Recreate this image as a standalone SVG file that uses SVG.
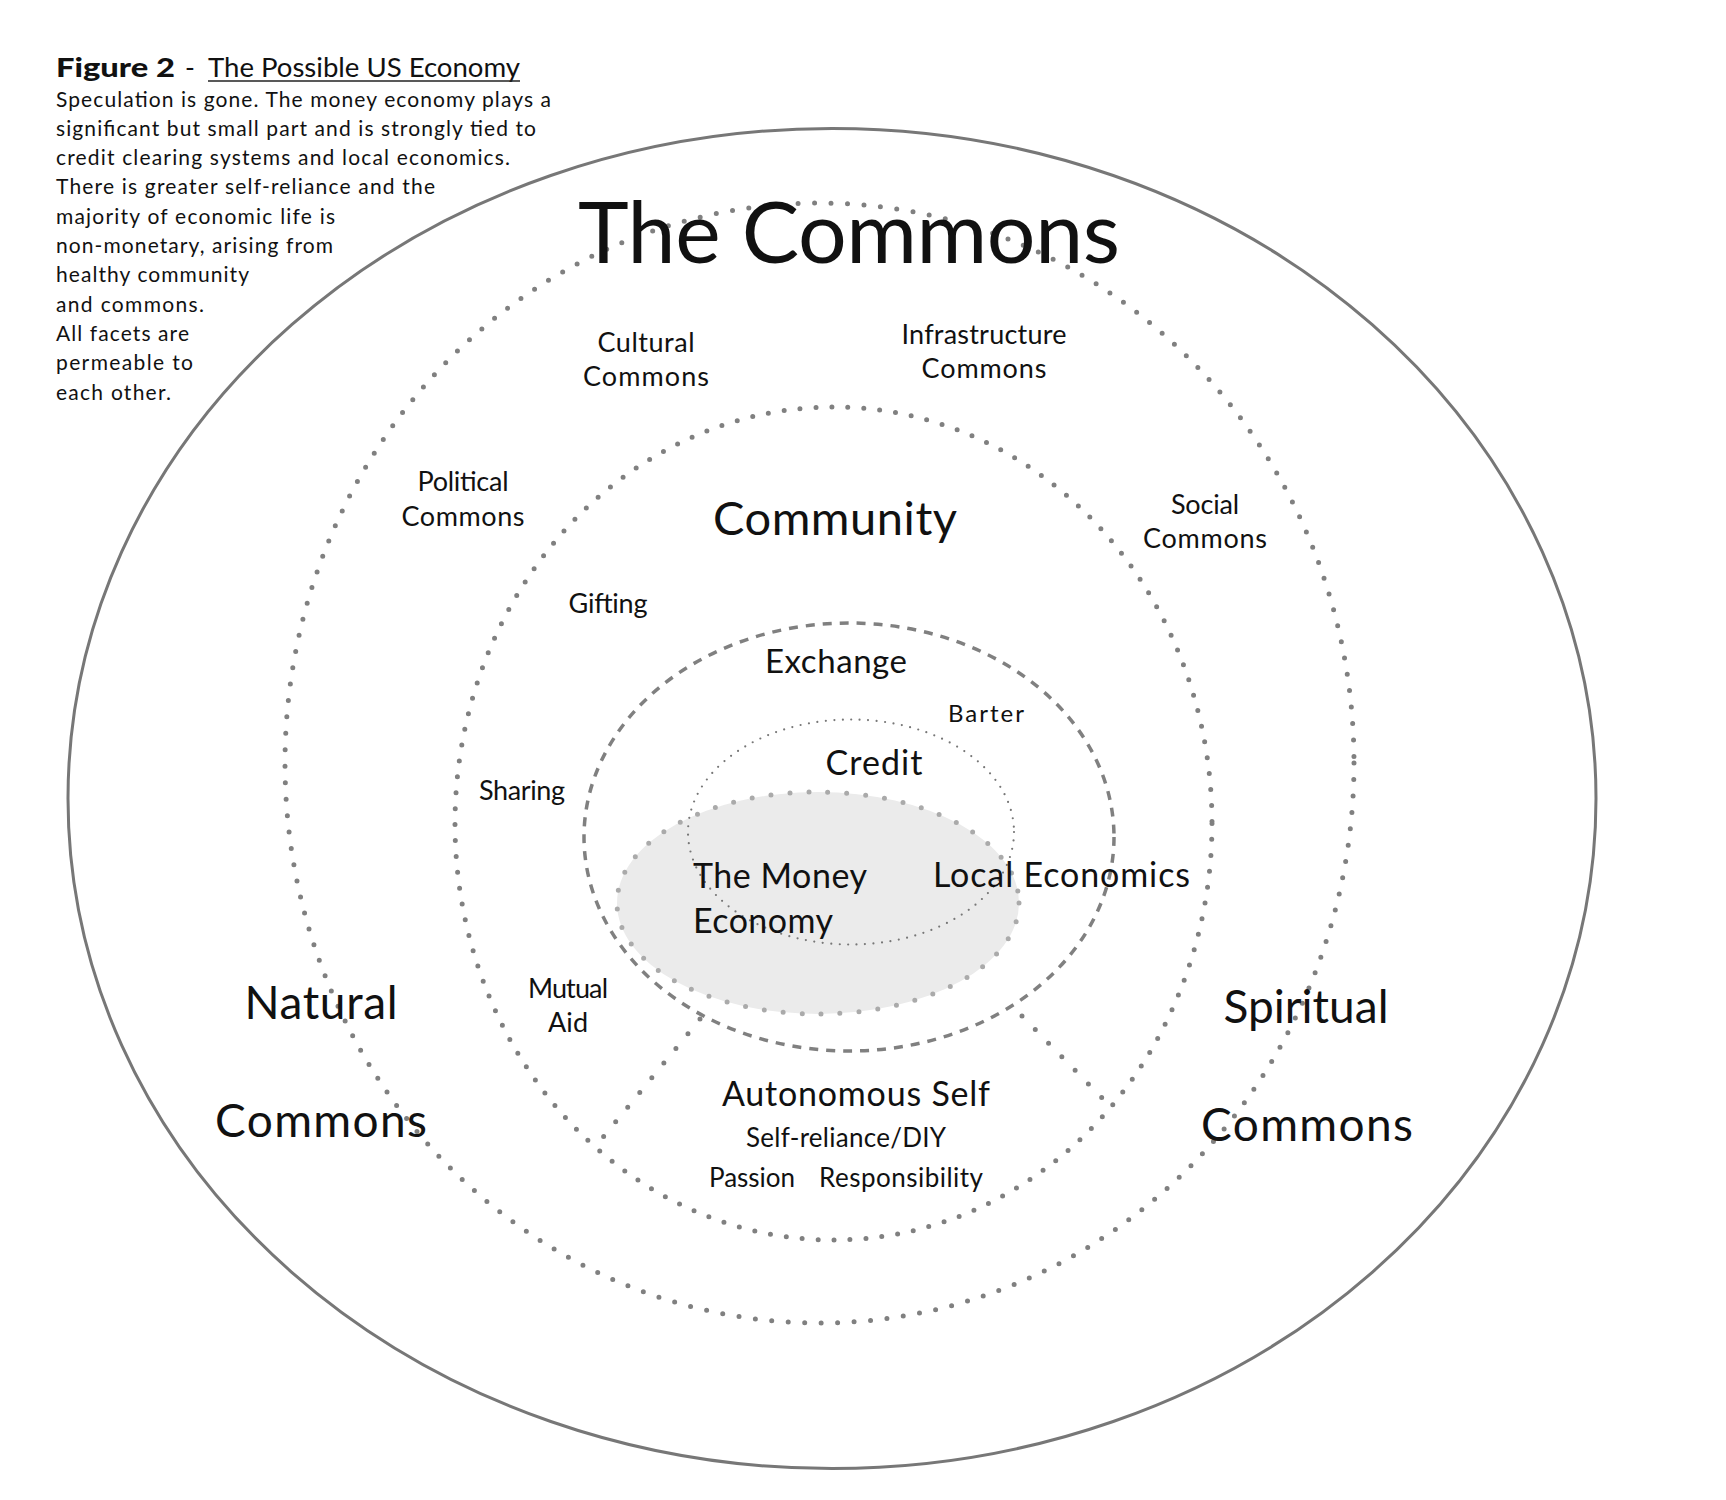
<svg xmlns="http://www.w3.org/2000/svg" width="1726" height="1500" viewBox="0 0 1726 1500">
<style>
.t{font-family:Lato,"Open Sans","Liberation Sans",sans-serif;fill:#111}
.body{font-size:21px}
.sm{font-size:27px}
.md{font-size:34px}
.lg{font-size:46px}
.c{text-anchor:middle}
.dots{fill:none;stroke:#808080;stroke-width:5;stroke-linecap:round;stroke-dasharray:0 16}
.ring{fill:none;stroke:#777;stroke-width:3}
</style>
<rect width="1726" height="1500" fill="#fff"/>

<g id="caption">
<text class="t" x="56" y="77" style="font-size:27px;font-weight:900" textLength="119" lengthAdjust="spacingAndGlyphs">Figure 2</text>
<text class="t" x="185" y="77" style="font-size:26.5px">-</text>
<text class="t" x="208" y="77" style="font-size:26.5px" textLength="312" lengthAdjust="spacingAndGlyphs">The Possible US Economy</text>
<line x1="208" y1="81" x2="520" y2="81" stroke="#222" stroke-width="1.6"/>
<text class="t body" x="56" y="106.5" textLength="495">Speculation is gone. The money economy plays a</text>
<text class="t body" x="56" y="135.8" textLength="480">significant but small part and is strongly tied to</text>
<text class="t body" x="56" y="165.1" textLength="454">credit clearing systems and local economics.</text>
<text class="t body" x="56" y="194.4" textLength="379">There is greater self-reliance and the</text>
<text class="t body" x="56" y="223.7" textLength="279">majority of economic life is</text>
<text class="t body" x="56" y="253" textLength="277">non-monetary, arising from</text>
<text class="t body" x="56" y="282.3" textLength="193">healthy community</text>
<text class="t body" x="56" y="311.6" textLength="148">and commons.</text>
<text class="t body" x="56" y="340.9" textLength="133">All facets are</text>
<text class="t body" x="56" y="370.2" textLength="137">permeable to</text>
<text class="t body" x="56" y="399.5" textLength="115">each other.</text>
</g>

<g id="outer-ring">
<ellipse class="ring" cx="832" cy="798.5" rx="764" ry="670"/>
</g>

<g id="commons-ring">
<ellipse class="dots" cx="819.5" cy="763" rx="534.5" ry="560" style="stroke-dasharray:0 16.5"/>
</g>

<g id="community-ring">
<ellipse class="dots" cx="833.5" cy="823.5" rx="378.5" ry="416.5"/>
</g>

<g id="exchange-ring">
<ellipse cx="849" cy="837" rx="265" ry="214" fill="none" stroke="#808080" stroke-width="3.5" stroke-dasharray="9 8"/>
</g>

<g id="money-economy">
<ellipse cx="818" cy="903" rx="201" ry="111" fill="#ebebeb"/>
<ellipse cx="818" cy="903" rx="201" ry="111" fill="none" stroke="#aaa" stroke-width="5" stroke-linecap="round" stroke-dasharray="0 19"/>
</g>

<g id="credit-ring">
<ellipse cx="851" cy="832" rx="163" ry="112.5" fill="none" stroke="#777" stroke-width="2.2" stroke-linecap="round" stroke-dasharray="0 8.5"/>
</g>

<g id="connectors">
<line class="dots" x1="700" y1="1019" x2="600" y2="1141" style="stroke-dasharray:0 19"/>
<line class="dots" x1="1022" y1="1016" x2="1108" y2="1104" style="stroke-dasharray:0 19"/>
</g>

<g id="the-commons">
<text class="t c" x="849" y="263" style="font-size:86px" textLength="542">The Commons</text>
</g>
<g id="cultural-commons">
<text class="t sm c" x="646" y="352" textLength="97">Cultural</text>
<text class="t sm c" x="646" y="386" textLength="126">Commons</text>
</g>
<g id="infrastructure-commons">
<text class="t sm c" x="984" y="344" textLength="165">Infrastructure</text>
<text class="t sm c" x="984" y="378" textLength="125">Commons</text>
</g>
<g id="political-commons">
<text class="t sm c" x="463" y="491" textLength="91">Political</text>
<text class="t sm c" x="463" y="526" textLength="123">Commons</text>
</g>
<g id="social-commons">
<text class="t sm c" x="1205" y="514" textLength="68">Social</text>
<text class="t sm c" x="1205" y="548" textLength="124">Commons</text>
</g>
<g id="natural-commons">
<text class="t lg c" x="321" y="1019" textLength="153">Natural</text>
<text class="t lg c" x="321" y="1137" textLength="212">Commons</text>
</g>
<g id="spiritual-commons">
<text class="t lg c" x="1306" y="1023" textLength="165">Spiritual</text>
<text class="t lg c" x="1307" y="1141" textLength="212">Commons</text>
</g>
<g id="community">
<text class="t c" x="835" y="535" style="font-size:47px" textLength="244">Community</text>
</g>
<g id="gifting"><text class="t sm c" x="608" y="613" textLength="79">Gifting</text></g>
<g id="sharing"><text class="t sm c" x="522" y="800" textLength="86">Sharing</text></g>
<g id="mutual-aid">
<text class="t sm c" x="568" y="998" textLength="80">Mutual</text>
<text class="t sm c" x="568" y="1032" textLength="40">Aid</text>
</g>
<g id="exchange"><text class="t c" x="836" y="673" style="font-size:33px" textLength="142">Exchange</text></g>
<g id="barter"><text class="t c" x="986" y="722" style="font-size:24px" textLength="76">Barter</text></g>
<g id="credit"><text class="t md c" x="874" y="775" textLength="97">Credit</text></g>
<g id="the-money-economy">
<text class="t md" x="693" y="888" textLength="174">The Money</text>
<text class="t md" x="693" y="933" textLength="140">Economy</text>
</g>
<g id="local-economics"><text class="t md" x="933" y="887" textLength="257">Local Economics</text></g>
<g id="autonomous-self">
<text class="t md c" x="856" y="1106" textLength="268">Autonomous Self</text>
<text class="t c" x="846" y="1147" style="font-size:26px" textLength="200">Self-reliance/DIY</text>
<text class="t" x="709" y="1187" style="font-size:26px" textLength="86">Passion</text>
<text class="t" x="819" y="1187" style="font-size:26px" textLength="164">Responsibility</text>
</g>
</svg>
